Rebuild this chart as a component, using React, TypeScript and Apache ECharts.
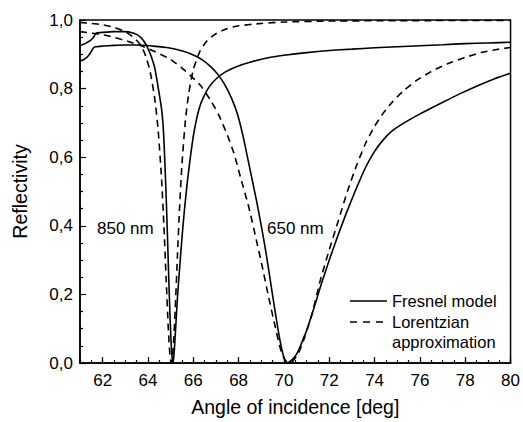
import React, { useEffect, useRef } from "react";
import * as echarts from "echarts";

// ---- Data ----
const xTickLabels = [62, 64, 66, 68, 70, 72, 74, 76, 78, 80];
const yTickValues = [0, 0.2, 0.4, 0.6, 0.8, 1.0];

// 850 nm, Fresnel model (solid)
const fresnel850Angle = [61.0, 61.15, 61.3, 61.45, 61.55, 61.62, 61.67, 61.72, 62.0, 62.5, 63.0, 63.3, 63.5, 63.7, 63.85, 64.0, 64.15, 64.3, 64.42, 64.52, 64.6, 64.66, 64.71, 64.76, 64.81, 64.86, 64.91, 64.96, 65.01, 65.06, 65.11, 65.16, 65.22, 65.3, 65.4, 65.5, 65.6, 65.74, 65.9, 66.05, 66.25, 66.45, 66.7, 67.0, 67.4, 67.9, 68.5, 69.3, 70.0, 71.0, 72.0, 73.0, 74.0, 75.0, 76.0, 77.0, 78.0, 79.0, 80.0];
const fresnel850R = [0.925, 0.929, 0.934, 0.94, 0.946, 0.952, 0.958, 0.962, 0.964, 0.966, 0.966, 0.963, 0.958, 0.948, 0.935, 0.917, 0.893, 0.86, 0.815, 0.775, 0.74, 0.70, 0.64, 0.56, 0.47, 0.37, 0.26, 0.16, 0.075, 0.02, 0.0, 0.035, 0.1, 0.19, 0.28, 0.365, 0.44, 0.53, 0.615, 0.68, 0.74, 0.775, 0.805, 0.828, 0.848, 0.864, 0.877, 0.89, 0.897, 0.905, 0.911, 0.915, 0.919, 0.922, 0.925, 0.928, 0.931, 0.933, 0.935];

// 650 nm, Fresnel model (solid)
const fresnel650Angle = [61.0, 61.15, 61.3, 61.42, 61.52, 61.6, 61.68, 62.0, 62.5, 63.0, 63.6, 64.2, 64.9, 65.6, 66.0, 66.4, 66.8, 67.1, 67.4, 67.7, 67.95, 68.2, 68.5, 68.8, 69.0, 69.2, 69.4, 69.6, 69.8, 69.95, 70.05, 70.13, 70.25, 70.4, 70.55, 70.7, 70.85, 71.0, 71.3, 71.6, 72.0, 72.4, 72.8, 73.2, 73.6, 74.0, 74.4, 74.8, 75.3, 75.8, 76.4, 77.1, 77.8, 78.6, 79.3, 80.0];
const fresnel650R = [0.88, 0.884, 0.891, 0.9, 0.911, 0.919, 0.922, 0.924, 0.926, 0.927, 0.927, 0.924, 0.919, 0.908, 0.898, 0.884, 0.862, 0.84, 0.81, 0.77, 0.725, 0.66, 0.565, 0.47, 0.40, 0.325, 0.24, 0.155, 0.075, 0.028, 0.007, 0.0, 0.004, 0.012, 0.025, 0.045, 0.07, 0.095, 0.155, 0.22, 0.3, 0.375, 0.445, 0.51, 0.57, 0.617, 0.652, 0.678, 0.70, 0.719, 0.74, 0.763, 0.786, 0.81, 0.829, 0.845];

// 850 nm, Lorentzian approximation (dashed)
const lorentz850Angle = [61.0, 61.5, 62.0, 62.5, 63.0, 63.4, 63.7, 63.9, 64.1, 64.3, 64.45, 64.6, 64.7, 64.8, 64.9, 64.97, 65.03, 65.1, 65.2, 65.3, 65.4, 65.5, 65.65, 65.8, 66.0, 66.3, 66.6, 67.0, 67.5, 68.0, 69.0, 70.0, 72.0, 75.0, 80.0];
const lorentz850R = [0.993, 0.99, 0.986, 0.979, 0.966, 0.947, 0.925, 0.895, 0.848, 0.77, 0.678, 0.536, 0.405, 0.248, 0.096, 0.022, 0.0, 0.03, 0.153, 0.313, 0.461, 0.58, 0.706, 0.787, 0.855, 0.91, 0.939, 0.96, 0.975, 0.983, 0.99, 0.994, 0.997, 0.998, 0.999];

// 650 nm, Lorentzian approximation (dashed)
const lorentz650Angle = [61.0, 61.7, 62.36, 63.1, 63.69, 64.27, 65.0, 65.66, 66.0, 66.33, 66.77, 67.13, 67.5, 67.8, 68.09, 68.45, 68.75, 69.04, 69.3, 69.6, 69.85, 70.05, 70.22, 70.4, 70.65, 70.94, 71.23, 71.45, 71.62, 72.0, 72.4, 72.8, 73.2, 73.6, 74.0, 74.4, 74.8, 75.3, 75.9, 76.5, 77.2, 78.0, 78.7, 79.4, 80.0];
const lorentz650R = [0.966, 0.96, 0.952, 0.938, 0.925, 0.909, 0.885, 0.851, 0.83, 0.808, 0.765, 0.722, 0.665, 0.61, 0.54, 0.454, 0.368, 0.282, 0.2, 0.11, 0.04, 0.008, 0.0, 0.006, 0.03, 0.08, 0.14, 0.2, 0.245, 0.33, 0.415, 0.5, 0.575, 0.64, 0.69, 0.73, 0.762, 0.795, 0.826, 0.85, 0.872, 0.891, 0.905, 0.914, 0.92];

const legendLabels = ["Fresnel model", "Lorentzian", "approximation"];
const curveLabels = ["850 nm", "650 nm"];

const FONT = "'Liberation Sans', Arial, Helvetica, sans-serif";

const zip = (xs: number[], ys: number[]) => xs.map((x, i) => [x, ys[i]]);

export default function App() {
  const ref = useRef<HTMLDivElement>(null);

  useEffect(() => {
    document.body.style.margin = "0";
    if (!ref.current) return;
    const chart = echarts.init(ref.current, null, { renderer: "svg" });

    const lineBase = { type: "line", showSymbol: false, symbol: "none", smooth: 0.2, clip: true, animation: false };
    const solid = { color: "#000", width: 1.6, type: "solid" };
    const dashed = { color: "#000", width: 1.6, type: [7, 5] };

    chart.setOption({
      animation: false,
      backgroundColor: "#fff",
      grid: { left: 80, top: 20, width: 433, height: 348, show: true, borderColor: "#000", borderWidth: 1.5, backgroundColor: "transparent" },
      xAxis: [
        {
          type: "value", min: 61, max: 80, position: "bottom",
          axisLine: { show: true, lineStyle: { color: "#000", width: 1.5 } },
          axisTick: { show: true, inside: true, length: 6, customValues: xTickLabels, lineStyle: { color: "#000", width: 1.2 } },
          axisLabel: { show: true, customValues: xTickLabels, color: "#000", fontSize: 17, fontFamily: FONT, margin: 9 },
          splitLine: { show: false },
          name: "Angle of incidence [deg]", nameLocation: "middle", nameGap: 34,
          nameTextStyle: { color: "#000", fontSize: 19.5, fontFamily: FONT },
        },
        {
          type: "value", min: 61, max: 80, interval: 0.5, position: "bottom",
          axisLine: { show: false },
          axisTick: { show: true, inside: true, length: 3, lineStyle: { color: "#000", width: 1.2 } },
          axisLabel: { show: false },
          splitLine: { show: false },
        },
      ],
      yAxis: {
        type: "value", min: 0, max: 1, interval: 0.2,
        axisLine: { show: true, lineStyle: { color: "#000", width: 1.5 } },
        axisTick: { show: true, inside: true, length: 6, lineStyle: { color: "#000", width: 1.2 } },
        minorTick: { show: true, splitNumber: 4, length: 3, lineStyle: { color: "#000", width: 1.2 } },
        axisLabel: {
          color: "#000", fontSize: 17, fontFamily: FONT, margin: 7,
          formatter: (v: number) => (yTickValues.some((t) => Math.abs(t - v) < 1e-6) ? v.toFixed(1).replace(".", ",") : ""),
        },
        splitLine: { show: false },
        name: "Reflectivity", nameLocation: "middle", nameGap: 50, nameRotate: 90,
        nameTextStyle: { color: "#000", fontSize: 19.5, fontFamily: FONT },
      },
      series: [
        { ...lineBase, name: "850 nm Lorentzian", data: zip(lorentz850Angle, lorentz850R), lineStyle: dashed },
        { ...lineBase, name: "650 nm Lorentzian", data: zip(lorentz650Angle, lorentz650R), lineStyle: dashed },
        { ...lineBase, name: "850 nm Fresnel", data: zip(fresnel850Angle, fresnel850R), lineStyle: solid },
        { ...lineBase, name: "650 nm Fresnel", data: zip(fresnel650Angle, fresnel650R), lineStyle: solid },
      ],
      graphic: [
        { type: "text", left: 97, top: 220, style: { text: curveLabels[0], fill: "#000", fontSize: 17, fontFamily: FONT } },
        { type: "text", left: 267, top: 220, style: { text: curveLabels[1], fill: "#000", fontSize: 17, fontFamily: FONT } },
        { type: "line", shape: { x1: 350, y1: 301, x2: 387, y2: 301 }, style: { stroke: "#000", lineWidth: 1.6 } },
        { type: "line", shape: { x1: 350, y1: 322, x2: 385, y2: 322 }, style: { stroke: "#000", lineWidth: 1.6, lineDash: [7, 6] } },
        { type: "text", left: 392, top: 292, style: { text: legendLabels[0], fill: "#000", fontSize: 16.5, fontFamily: FONT } },
        { type: "text", left: 392, top: 313, style: { text: legendLabels[1], fill: "#000", fontSize: 16.5, fontFamily: FONT } },
        { type: "text", left: 392, top: 333, style: { text: legendLabels[2], fill: "#000", fontSize: 16.5, fontFamily: FONT } },
      ],
    });

    return () => chart.dispose();
  }, []);

  return <div ref={ref} style={{ position: "fixed", left: 0, top: 0, width: 523, height: 422 }} />;
}
